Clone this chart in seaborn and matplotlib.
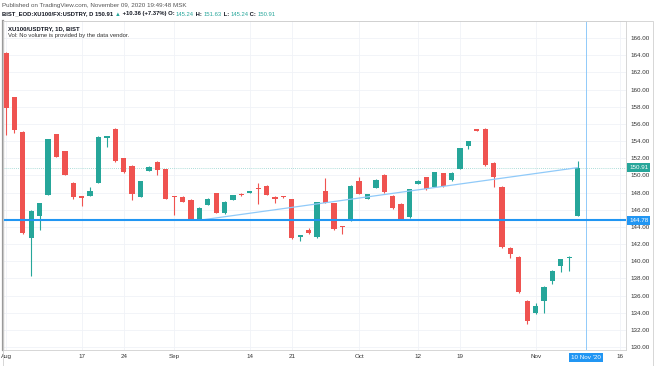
import matplotlib
matplotlib.use("Agg")
import matplotlib.pyplot as plt
from matplotlib.patches import Rectangle
import pandas as pd
import seaborn as sns

# daily candles XU100/USDTRY
dates = ['Aug 4', 'Aug 5', 'Aug 6', 'Aug 7', 'Aug 10', 'Aug 11', 'Aug 12', 'Aug 13', 'Aug 14',
         'Aug 17', 'Aug 18', 'Aug 19', 'Aug 20', 'Aug 21', 'Aug 24', 'Aug 25', 'Aug 26', 'Aug 27',
         'Aug 28', 'Aug 31', 'Sep 1', 'Sep 2', 'Sep 3', 'Sep 4', 'Sep 7', 'Sep 8', 'Sep 9',
         'Sep 10', 'Sep 11', 'Sep 14', 'Sep 15', 'Sep 16', 'Sep 17', 'Sep 18', 'Sep 21', 'Sep 22',
         'Sep 23', 'Sep 24', 'Sep 25', 'Sep 28', 'Sep 29', 'Sep 30', 'Oct 1', 'Oct 2', 'Oct 5',
         'Oct 6', 'Oct 7', 'Oct 8', 'Oct 9', 'Oct 12', 'Oct 13', 'Oct 14', 'Oct 15', 'Oct 16',
         'Oct 19', 'Oct 20', 'Oct 21', 'Oct 22', 'Oct 23', 'Oct 26', 'Oct 27', 'Oct 28', 'Oct 30',
         'Nov 2', 'Nov 3', 'Nov 4', 'Nov 5', 'Nov 6', 'Nov 9']
opens = [164.24, 159.12, 155.11, 142.76, 145.29, 147.73, 154.80, 152.86, 149.17,
         147.50, 147.62, 149.17, 154.40, 155.46, 152.01, 151.15, 147.54, 150.53,
         151.62, 150.72, 147.60, 147.54, 147.15, 144.82, 146.57, 147.93, 145.60,
         147.15, 147.89, 148.00, 148.55, 148.78, 147.54, 147.55, 147.23, 142.88,
         143.65, 142.80, 148.20, 146.76, 144.05, 144.78, 149.40, 147.27, 148.55,
         150.10, 147.62, 146.68, 145.13, 149.01, 149.79, 148.63, 150.26, 149.48,
         150.72, 153.44, 155.39, 155.46, 151.50, 148.70, 141.59, 140.54, 135.38,
         133.94, 135.42, 137.71, 139.50, 140.40, 145.24]
highs = [164.40, 159.20, 155.20, 146.00, 146.80, 154.30, 154.85, 152.90, 149.20,
         147.55, 148.70, 154.60, 154.60, 155.50, 152.05, 151.20, 149.40, 151.10,
         151.65, 150.80, 147.65, 147.60, 147.20, 146.30, 147.35, 148.00, 147.00,
         147.75, 147.95, 148.15, 149.17, 148.85, 147.60, 147.60, 147.30, 143.10,
         143.93, 146.95, 149.75, 146.80, 144.10, 148.90, 149.87, 147.85, 149.60,
         150.15, 147.70, 146.75, 148.45, 149.45, 149.85, 150.45, 150.30, 150.40,
         153.25, 154.05, 155.45, 155.50, 151.55, 148.75, 141.65, 140.60, 135.45,
         135.11, 137.10, 138.95, 140.30, 140.60, 151.63]
lows = [154.73, 154.92, 143.20, 138.29, 143.65, 147.70, 152.10, 150.00, 147.30,
        146.49, 147.60, 149.10, 153.29, 151.60, 150.30, 147.15, 147.50, 150.50,
        150.06, 147.20, 145.40, 146.85, 144.80, 144.80, 146.50, 145.60, 145.55,
        147.10, 147.60, 147.95, 146.68, 147.70, 146.76, 147.40, 142.60, 142.41,
        143.20, 142.75, 146.80, 143.70, 143.15, 144.70, 147.80, 147.20, 148.50,
        148.00, 146.10, 144.90, 145.10, 148.95, 148.35, 148.60, 148.70, 149.40,
        150.70, 153.05, 155.20, 151.10, 148.70, 141.60, 140.35, 136.30, 132.70,
        133.90, 133.94, 137.36, 138.80, 138.87, 145.24]
closes = [157.91, 155.31, 143.26, 145.91, 146.76, 154.22, 152.12, 150.06, 147.46,
          147.40, 148.24, 154.53, 154.55, 151.66, 150.37, 147.81, 149.33, 151.03,
          150.65, 147.23, 147.50, 146.88, 144.82, 146.26, 147.31, 145.67, 146.96,
          147.69, 147.69, 148.10, 148.39, 147.73, 147.23, 147.45, 142.68, 143.07,
          143.26, 146.88, 146.84, 143.77, 143.95, 148.82, 147.81, 147.81, 149.52,
          148.04, 146.18, 144.94, 148.39, 149.40, 148.39, 150.37, 148.78, 150.34,
          153.17, 153.99, 155.23, 151.19, 149.79, 141.63, 140.86, 136.39, 133.05,
          134.83, 137.05, 138.91, 140.23, 140.55, 150.91]
future_dates = ['Nov 10', 'Nov 11', 'Nov 12', 'Nov 13', 'Nov 16']

tick_dates = ['Aug 4', 'Aug 17', 'Aug 24', 'Sep 1', 'Sep 14', 'Sep 21', 'Oct 1', 'Oct 12',
              'Oct 19', 'Nov 2', 'Nov 16']
tick_labels = ['Aug', '17', '24', 'Sep', '14', '21', 'Oct', '12', '19', 'Nov', '16']
price_ticks = list(range(130, 168, 2))

support_level = 144.78
last_price = 150.91
trend_dates = ['Sep 4', 'Nov 9']
trend_prices = [144.78, 150.91]
cursor_date = 'Nov 10'
cursor_label = "10 Nov '20"

UP = '#26a69a'
DOWN = '#ef5350'
BLUE = '#2196f3'
LIGHT_BLUE = '#90caf9'

df = pd.DataFrame({'date': dates, 'open': opens, 'high': highs, 'low': lows, 'close': closes})
all_dates = dates + future_dates
pos = {d: i for i, d in enumerate(all_dates)}
df['i'] = df['date'].map(pos)
df['color'] = (df['close'] >= df['open']).map({True: UP, False: DOWN})
df['body_low'] = df[['open', 'close']].min(axis=1)
df['body_h'] = (df['close'] - df['open']).abs().clip(lower=0.15)

sns.set_theme(style="white")
plt.rcParams['font.family'] = ['Liberation Sans', 'DejaVu Sans']

W, H = 654, 366
fig = plt.figure(figsize=(W / 100, H / 100), dpi=100)
ax = fig.add_axes([3 / W, 16 / H, 623 / W, 329 / H])

# candles
ax.vlines(df['i'], df['low'], df['high'], colors=df['color'], lw=0.8, zorder=3)
ax.bar(df['i'], df['body_h'], bottom=df['body_low'], width=0.63, color=df['color'],
       linewidth=0, zorder=4)

# drawings
ax.axhline(last_price, color=UP, lw=0.6, ls=(0, (1, 1.5)), alpha=0.5, zorder=1)
ax.axvline(pos[cursor_date], color=LIGHT_BLUE, lw=0.7, zorder=1)
sns.lineplot(x=[pos[d] for d in trend_dates], y=trend_prices, color=LIGHT_BLUE, lw=0.9,
             ax=ax, zorder=5)
ax.axhline(support_level, color=BLUE, lw=1.5, zorder=6)

ax.set_xlim(-0.36, 73.75)
ax.set_ylim(129.66, 168.0)
ax.set_xlabel('')
ax.set_ylabel('')

ax.yaxis.tick_right()
ax.set_yticks(price_ticks)
ax.set_yticklabels([f'{v:.2f}' for v in price_ticks])
ax.tick_params(axis='y', length=0, pad=3, labelsize=4.5, labelcolor='#333333')
ax.set_xticks([pos[d] for d in tick_dates])
ax.set_xticklabels(tick_labels)
ax.tick_params(axis='x', length=0, pad=3, labelsize=4.5, labelcolor='#333333')
ax.grid(True, color='#f0f2f7', lw=0.6)
ax.set_axisbelow(True)

ax.spines['left'].set_color('#9a9a9a')
ax.spines['left'].set_linewidth(1.6)
for s in ['top', 'right', 'bottom']:
    ax.spines[s].set_color('#d0d0d0')
    ax.spines[s].set_linewidth(0.6)

# price labels on the scale
for val, col in [(last_price, UP), (support_level, BLUE)]:
    ax.text(1.005, val, f'{val:.2f}', transform=ax.get_yaxis_transform(), ha='left',
            va='center', fontsize=4.5, color='white', zorder=10, clip_on=False,
            bbox=dict(boxstyle='square,pad=0.3', fc=col, ec='none'))
ax.text(pos[cursor_date], -0.022, cursor_label, transform=ax.get_xaxis_transform(),
        ha='center', va='center', fontsize=4.5, color='white', zorder=10, clip_on=False,
        bbox=dict(boxstyle='square,pad=0.35', fc=BLUE, ec='none'))

# outer frame
fig.add_artist(Rectangle((3 / W, 0), (W - 4) / W, (H - 21) / H, transform=fig.transFigure,
                         fill=False, ec='#d0d0d0', lw=0.6))

# header
fig.text(2 / W, 1 - 6 / H, 'Published on TradingView.com, November 09, 2020 19:49:48 MSK',
         fontsize=4.5, color='#555555', va='center')
parts = [('BIST_EOD:XU100/FX:USDTRY, D 150.91 ', '#131722', 'bold'),
         ('\u25b2', UP, 'normal'),
         (' +10.36 (+7.37%) O: ', '#131722', 'bold'),
         ('145.24', UP, 'normal'),
         (' H: ', '#131722', 'bold'),
         ('151.63', UP, 'normal'),
         (' L: ', '#131722', 'bold'),
         ('145.24', UP, 'normal'),
         (' C: ', '#131722', 'bold'),
         ('150.91', UP, 'normal')]
t = fig.text(2 / W, 1 - 14 / H, parts[0][0], fontsize=4.2, color=parts[0][1],
             fontweight=parts[0][2], va='center')
for txt, col, wt in parts[1:]:
    t = ax.annotate(txt, xy=(1, 0), xycoords=t, va='bottom', ha='left', fontsize=4.2,
                    color=col, fontweight=wt, annotation_clip=False)

fig.text(8 / W, 1 - 29 / H, 'XU100/USDTRY, 1D, BIST', fontsize=4.3, color='#131722',
         fontweight='bold', va='center')
fig.text(8 / W, 1 - 36 / H, 'Vol: No volume is provided by the data vendor.', fontsize=4.2,
         color='#333333', va='center')

fig.savefig('out.png', dpi=100)
